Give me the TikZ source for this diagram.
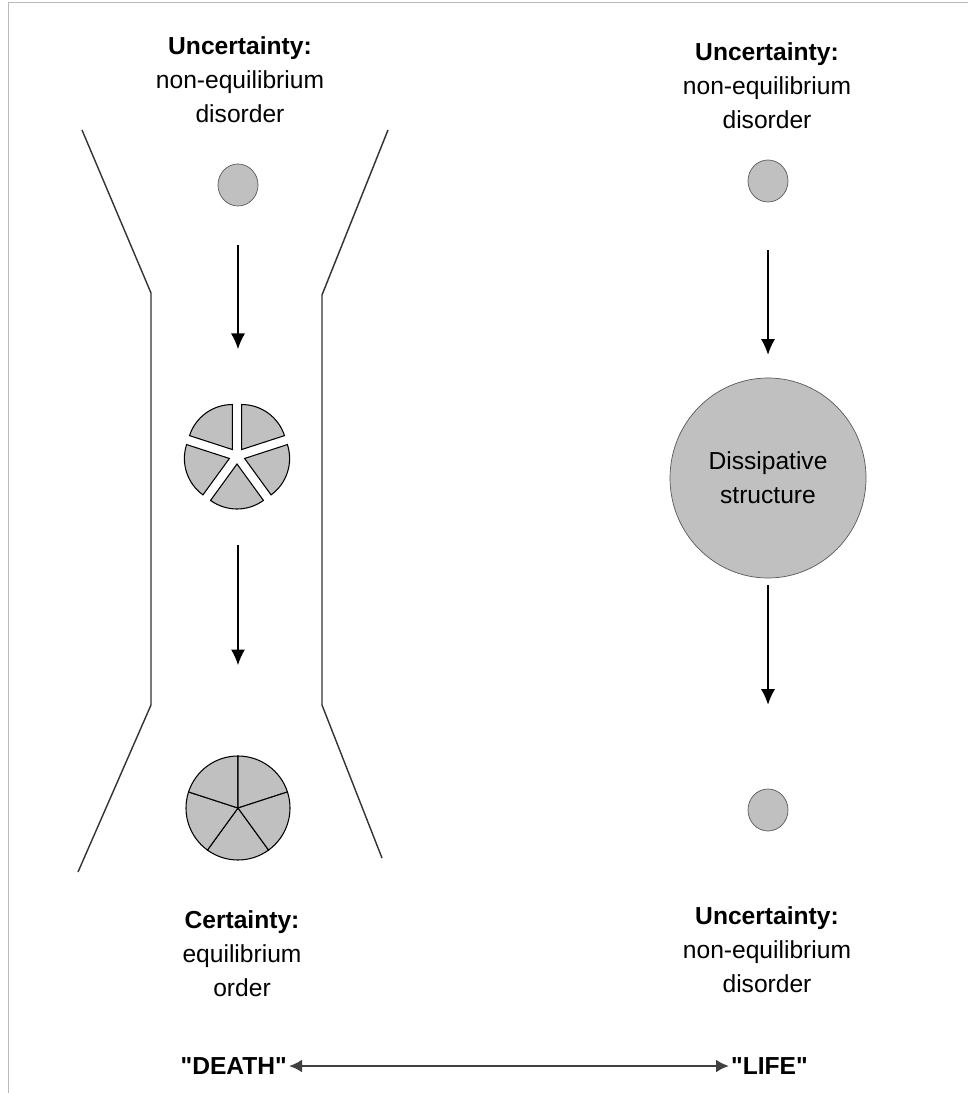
\documentclass[tikz,border=0pt]{standalone}
\usepackage{fontspec}
\setmainfont{Liberation Sans}[Ligatures=TeXOff]
\usetikzlibrary{arrows.meta,shapes.geometric}

\definecolor{silver}{HTML}{C0C0C0}

\begin{document}
\begin{tikzpicture}[x=0.2mm, y=-0.2mm, >={Latex[length=3.1mm,width=2.8mm]},
    font=\fontsize{14}{19.3}\selectfont,
    blob/.style={draw=black!65, fill=silver, ellipse, inner sep=0pt, minimum width=8mm, minimum height=8.4mm},
    lbl/.style={align=center, anchor=north, inner sep=0pt},
    tag/.style={font=\fontsize{14}{19.3}\selectfont\bfseries, inner sep=1pt},
    flow/.style={->, line width=0.6pt},
    wall/.style={line width=0.8pt, black!80},
    wedge/.style={draw=black, line width=0.6pt, fill=silver}]
  \useasboundingbox (0,0) rectangle (968,1093);
  % frame on the top and left edges
  \draw[gray!55, line width=1.1pt] (8.5,1093) -- (8.5,2.5) -- (968,2.5);

  % the funnel on the left
  \draw[wall] (82,130) -- (151,293) -- (151,705) -- (78,872);
  \draw[wall] (388,130) -- (322,295) -- (322,705) -- (382,858);

  % left column: towards equilibrium
  \node[lbl] (topl) at (240,36) {\textbf{Uncertainty:}\\non-equilibrium\\disorder};
  \node[blob] (l1) at (238,185) {};
  \coordinate (brk) at (237,456);
  \foreach \a in {54,126,198,270,342}
    \draw[wedge] (brk) ++(\a+36:8) -- ++(\a:45) arc[start angle=\a, end angle=\a+72, radius=45] -- cycle;
  \coordinate (whole) at (238,808);
  \foreach \a in {54,126,198,270,342}
    \draw[wedge] (whole) -- ++(\a:52) arc[start angle=\a, end angle=\a+72, radius=52] -- cycle;
  \draw[flow, shorten <=7.8mm, shorten >=21.4mm] (l1) -- (l1 |- brk);
  \draw[flow, shorten <=17.8mm, shorten >=28.6mm] (l1 |- brk) -- (whole);
  \node[lbl] (botl) at (242,910) {\textbf{Certainty:}\\equilibrium\\order};

  % right column: far from equilibrium
  \node[lbl] (topr) at (767,42) {\textbf{Uncertainty:}\\non-equilibrium\\disorder};
  \node[blob] (r1) at (768,181) {};
  \node[blob, align=center, minimum width=39.2mm, minimum height=40mm] (diss) at (768,478) {Dissipative\\structure};
  \node[blob] (r2) at (768,810) {};
  \draw[flow, shorten <=9.6mm, shorten >=4.6mm] (r1) -- (diss);
  \draw[flow, shorten <=1.4mm, shorten >=16.8mm] (diss) -- (r2);
  \node[lbl] (botr) at (767,906) {\textbf{Uncertainty:}\\non-equilibrium\\disorder};

  % bottom scale
  \node[tag, anchor=east] (death) at (289,1066) {"DEATH"};
  \node[tag, anchor=west] (life) at (729,1066) {"LIFE"};
  \draw[{Latex[length=2.6mm,width=2.6mm]}-{Latex[length=2.6mm,width=2.6mm]}, line width=1.4pt, black!75] (death) -- (life);
\end{tikzpicture}
\end{document}
